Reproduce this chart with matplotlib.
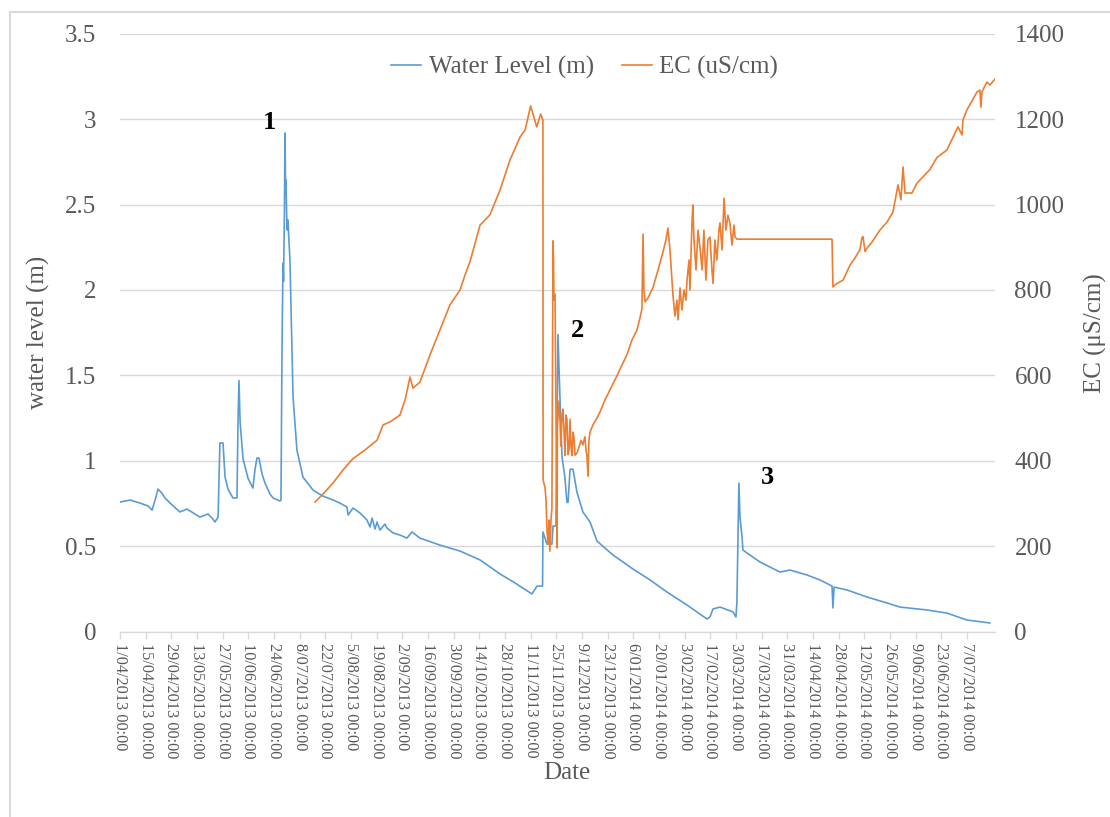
import numpy as np
import pandas as pd
import matplotlib
matplotlib.use("Agg")
import matplotlib.pyplot as plt
from matplotlib.lines import Line2D
from matplotlib.ticker import FuncFormatter

plt.rcParams['font.family'] = ['Liberation Serif', 'DejaVu Serif']

start = pd.Timestamp("2013-04-01")

# logger record, days since 1/04/2013
wl_day = [0, 5.5, 10.9, 15.3, 17.5, 19.6, 20.7, 22.9, 24.5, 28.4, 32.7, 36.5, 40.9, 43.6,
          48.0, 50.7, 51.8, 53.5, 54.5, 56.2, 57.3, 58.9, 61.6, 63.8, 64.4, 64.9, 65.5, 67.1,
          69.8, 72.5, 73.6, 74.7, 75.8, 77.5, 79.1, 81.8, 83.5, 87.3, 87.8, 88.4, 88.9, 89.2,
          89.5, 89.7, 90.0, 90.3, 90.5, 91.1, 91.6, 92.7, 93.8, 94.4, 96.5, 99.8, 105.3, 110.7,
          116.2, 120.0, 123.8, 124.4, 127.1, 130.9, 134.7, 136.4, 137.5, 139.1, 140.2, 141.8,
          144.5, 145.6, 148.9, 152.7, 156.5, 159.3, 163.6, 174.5, 185.5, 196.4, 207.3, 215.5,
          224.7, 227.5, 230.5, 230.7, 232.9, 235.6, 236.2, 237.8, 238.9, 240.0, 241.1, 242.7,
          243.8, 244.4, 245.5, 247.1, 249.3, 252.5, 256.4, 260.2, 264.5, 268.9, 274.4, 279.8,
          289.1, 298.4, 309.3, 320.2, 321.8, 323.5, 327.3, 331.6, 334.4, 336.0, 336.5, 337.6,
          338.2, 339.3, 339.8, 343.6, 349.1, 360.0, 365.5, 370.9, 374.7, 381.8, 388.4, 388.9,
          389.5, 396.6, 407.5, 418.4, 425.5, 440.2, 451.1, 462.0, 474.5]
wl_m = [0.758, 0.770, 0.752, 0.735, 0.711, 0.787, 0.834, 0.810, 0.782, 0.741, 0.700, 0.717,
        0.688, 0.670, 0.688, 0.659, 0.641, 0.670, 1.104, 1.104, 0.904, 0.834, 0.782, 0.782,
        1.247, 1.470, 1.229, 1.013, 0.898, 0.840, 0.945, 1.016, 1.016, 0.922, 0.869, 0.805,
        0.782, 0.764, 0.770, 1.689, 2.157, 2.050, 2.292, 2.468, 2.919, 2.614, 2.644, 2.351,
        2.410, 2.175, 1.666, 1.373, 1.063, 0.904, 0.828, 0.793, 0.770, 0.752, 0.729, 0.682,
        0.723, 0.694, 0.653, 0.612, 0.664, 0.600, 0.641, 0.594, 0.629, 0.606, 0.577, 0.565,
        0.547, 0.583, 0.547, 0.506, 0.471, 0.419, 0.337, 0.284, 0.220, 0.266, 0.266, 0.583,
        0.512, 0.512, 0.618, 0.618, 1.739, 1.364, 1.025, 0.902, 0.756, 0.756, 0.950, 0.950,
        0.814, 0.700, 0.641, 0.530, 0.489, 0.448, 0.407, 0.366, 0.302, 0.231, 0.155, 0.073,
        0.085, 0.132, 0.143, 0.126, 0.114, 0.085, 0.167, 0.869, 0.670, 0.553, 0.477, 0.448,
        0.407, 0.348, 0.360, 0.343, 0.331, 0.302, 0.266, 0.138, 0.260, 0.243, 0.202, 0.167,
        0.143, 0.126, 0.108, 0.067, 0.050]

ec_day = [106.4, 111.8, 116.2, 121.6, 127.1, 133.6, 140.2, 143.5, 147.3, 152.7, 155.5, 158.2,
          159.8, 163.6, 169.1, 174.5, 180.0, 185.5, 188.2, 190.9, 196.4, 201.8, 207.3, 212.7,
          218.2, 221.0, 224.0, 227.3, 229.5, 230.7, 230.8, 231.8, 232.4, 232.9, 233.5, 234.0,
          234.5, 235.1, 235.6, 236.2, 236.5, 236.7, 237.3, 237.8, 238.4, 238.6, 239.5, 240.0,
          240.5, 241.1, 241.6, 242.2, 242.7, 243.3, 243.8, 244.4, 244.9, 245.5, 246.0, 246.5,
          247.1, 247.6, 248.2, 249.3, 250.4, 251.5, 252.5, 253.6, 254.2, 254.7, 255.3, 255.8,
          256.4, 258.0, 260.2, 261.8, 264.5, 267.3, 271.1, 273.8, 276.5, 279.3, 282.0, 283.6,
          284.7, 285.3, 285.8, 286.4, 288.0, 290.7, 293.5, 296.2, 297.8, 298.9, 300.0, 301.1,
          301.6, 302.7, 303.8, 304.4, 305.5, 306.5, 307.6, 308.7, 309.3, 310.4, 310.9, 312.0,
          312.5, 313.1, 314.2, 315.3, 316.4, 317.5, 318.5, 319.6, 320.7, 321.8, 322.9, 323.5,
          324.5, 325.6, 326.7, 327.3, 328.4, 329.5, 330.5, 331.6, 332.7, 333.8, 334.9, 335.5,
          336.5, 388.4, 388.9, 390.0, 392.7, 394.4, 398.2, 400.9, 403.6, 404.7, 405.3, 406.4,
          407.5, 410.2, 414.5, 418.4, 421.6, 424.4, 426.0, 427.1, 428.2, 432.0, 434.7, 441.8,
          445.6, 451.1, 455.5, 457.1, 459.3, 459.8, 462.0, 467.5, 469.1, 469.6, 470.2, 472.9,
          474.5, 477.3]
ec_us = [303, 327, 348, 378, 405, 425, 448, 484, 491, 507, 542, 596, 570, 584, 648, 706, 765,
         800, 835, 866, 952, 976, 1034, 1104, 1158, 1175, 1231, 1182, 1212, 1198, 355, 338, 308,
         238, 205, 261, 188, 261, 289, 915, 870, 776, 790, 522, 196, 481, 540, 497, 434, 507,
         521, 471, 412, 507, 497, 414, 425, 497, 434, 412, 467, 456, 413, 418, 432, 448, 437,
         456, 425, 412, 364, 448, 467, 484, 500, 514, 542, 566, 599, 624, 648, 683, 706, 734,
         755, 931, 800, 772, 781, 805, 847, 889, 917, 945, 894, 823, 790, 739, 776, 730, 805,
         753, 800, 776, 823, 870, 800, 957, 999, 917, 847, 940, 898, 847, 940, 823, 917, 924,
         847, 815, 917, 870, 940, 957, 894, 1015, 940, 975, 957, 905, 952, 924, 919, 919, 807,
         812, 819, 823, 858, 875, 894, 922, 925, 890, 898, 912, 940, 959, 982, 1046, 1011,
         1088, 1027, 1027, 1050, 1082, 1110, 1128, 1168, 1182, 1163, 1198, 1222, 1264, 1268,
         1228, 1264, 1287, 1280, 1294]

event_names = ["1", "2", "3"]
event_day = [81.8, 249.3, 352.9]
event_y = [2.98, 1.765, 0.899]

tick_dates = pd.date_range("2013-04-01", "2014-07-07", freq="14D")
tick_names = [f"{d.day}/{d.month:02d}/{d.year} 00:00" for d in tick_dates]

grey = '#595959'
blue = '#5B9BD5'
orange = '#ED7D31'

wl_t = start + pd.to_timedelta(wl_day, unit="D")
ec_t = start + pd.to_timedelta(ec_day, unit="D")

fig = plt.figure(figsize=(11.1, 8.17), dpi=100)
ax = fig.add_axes([120 / 1110, 1 - 631.5 / 817, 875 / 1110, 597.7 / 817])
ax2 = ax.twinx()

ax.plot(wl_t, wl_m, color=blue, lw=1.2, label='Water Level (m)')
ax2.plot(ec_t, ec_us, color=orange, lw=1.2, label='EC (uS/cm)')

ax.set_xlim(start, start + pd.Timedelta(days=477.3))
ax.set_ylim(0, 3.5)
ax2.set_ylim(0, 1400)
ax.set_yticks(np.arange(0, 3.51, 0.5))
ax2.set_yticks(np.arange(0, 1401, 200))
ax.yaxis.set_major_formatter(FuncFormatter(lambda v, p: f"{v:g}"))

ax.set_xticks(tick_dates)
ax.set_xticklabels(tick_names, rotation=-90, ha='center', va='top', fontsize=11.7, color=grey)
ax.tick_params(axis='x', length=5, width=1, color='#d9d9d9', pad=3)
ax.tick_params(axis='y', length=0, pad=17, labelsize=18, labelcolor=grey)
ax2.tick_params(axis='y', length=0, pad=14, labelsize=18, labelcolor=grey)

ax.yaxis.grid(True, color='#d9d9d9', lw=1)
ax.set_axisbelow(True)
for a in (ax, ax2):
    for s in ('top', 'left', 'right'):
        a.spines[s].set_visible(False)
    a.spines['bottom'].set_color('#d9d9d9')

ax.set_ylabel('water level (m)', fontsize=18, color=grey)
ax.yaxis.set_label_coords(-0.08, 0.5)
ax2.set_ylabel('EC (μS/cm)', fontsize=18, color=grey)
ax2.yaxis.set_label_coords(1.102, 0.5)
ax.set_xlabel('Date', fontsize=18, color=grey)
ax.xaxis.set_label_coords(0.511, -0.219)

for name, d, y in zip(event_names, event_day, event_y):
    ax.text(start + pd.Timedelta(days=d), y, name, fontsize=19, fontweight='bold',
            ha='center', va='center', color='black')

h1, l1 = ax.get_legend_handles_labels()
h2, l2 = ax2.get_legend_handles_labels()
leg = ax2.legend(h1 + h2, l1 + l2, loc='center', bbox_to_anchor=(0.531, 0.943), ncol=2,
                 frameon=False, fontsize=18, handlelength=1.2, handletextpad=0.3,
                 columnspacing=1.1)
for t in leg.get_texts():
    t.set_color(grey)

# thin frame around the figure
fig.add_artist(Line2D([10 / 1110, 10 / 1110], [0, 1 - 12 / 817], transform=fig.transFigure,
                      color='#d9d9d9', lw=1.5))
fig.add_artist(Line2D([10 / 1110, 1], [1 - 12 / 817, 1 - 12 / 817], transform=fig.transFigure,
                      color='#d9d9d9', lw=1.5))

fig.savefig('out.png', dpi=100)
